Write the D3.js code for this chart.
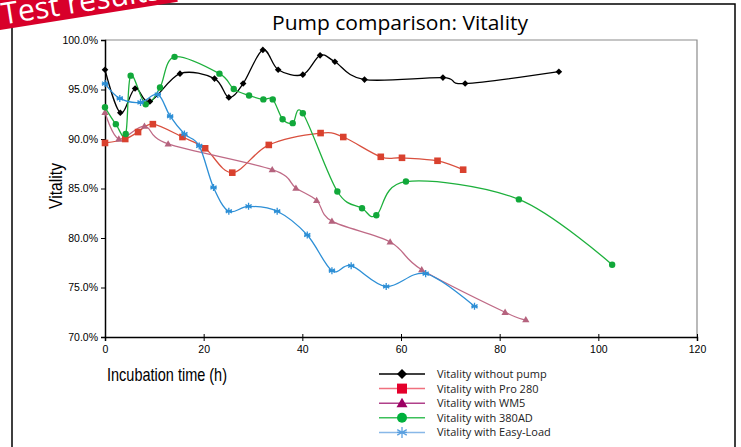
<!DOCTYPE html>
<html>
<head>
<meta charset="utf-8">
<script src="https://cdn.jsdelivr.net/npm/d3@7"></script>
<style>
  body { margin: 0; background: #fff; }
  svg { display: block; }
</style>
</head>
<body>
<div id="chart"></div>
<script>
// series: [hours, vitality %]
var noPump = [[0,97.0],[3.1,92.65],[6.1,95.1],[9.1,93.8],[15.2,96.6],[22.2,96.1],[25.1,94.2],[28.0,95.6],[32.0,99.0],[35.1,97.0],[40.1,96.5],[43.6,98.45],[46.6,97.8],[52.6,96.0],[68.5,96.2],[73.0,95.6],[92.0,96.8]];
var pro280 = [[0,89.6],[4.1,90.0],[6.7,90.7],[9.7,91.5],[15.7,90.2],[20.3,89.06],[25.8,86.6],[33.2,89.4],[43.7,90.6],[48.3,90.2],[55.9,88.2],[60.2,88.1],[67.4,87.8],[72.6,86.9]];
var wm5 = [[0,92.7],[2.8,90.0],[8.0,91.3],[12.8,89.5],[33.9,86.9],[38.7,85.05],[42.9,83.8],[46.0,81.7],[57.8,79.6],[64.2,76.8],[81.1,72.5],[85.3,71.75]];
var ad380 = [[0,93.2],[2.2,91.5],[4.2,90.5],[5.2,96.4],[8.25,93.5],[11.15,95.2],[14.1,98.3],[23.2,96.6],[26.1,95.05],[29.2,94.4],[32.1,94.0],[34.0,94.0],[36.0,92.0],[38.05,91.6],[40.1,92.6],[47.1,84.7],[52.1,83.0],[55.0,82.3],[61.0,85.7],[83.9,83.9],[102.8,77.3]];
var easyLoad = [[0,95.6],[3.0,94.1],[7.2,93.7],[10.7,94.5],[13.2,92.3],[16.1,90.5],[19.1,89.3],[22.0,85.1],[25.1,82.7],[29.1,83.2],[34.9,82.7],[41.0,80.3],[46.0,76.7],[49.9,77.2],[57.0,75.1],[65.0,76.4],[74.9,73.1]];

var seriesNames = ["Vitality without pump","Vitality with Pro 280","Vitality with WM5","Vitality with 380AD","Vitality with Easy-Load"];
var xTicks = [0,20,40,60,80,100,120];
var yTicks = [70,75,80,85,90,95,100];

var W = 741, H = 447;
var svg = d3.select('#chart').append('svg').attr('width', W).attr('height', H);

var x = d3.scaleLinear().domain([0,120]).range([105,697]);
var y = d3.scaleLinear().domain([70,100]).range([337,40]);

// outer frame
svg.append('rect').attr('x', 12).attr('y', 4).attr('width', 723).attr('height', 460)
  .attr('fill', 'none').attr('stroke', '#000').attr('stroke-width', 1.5);

// plot area border (top/right gray)
svg.append('path')
  .attr('d', 'M' + x(0) + ',' + y(100) + 'H' + x(120) + 'V' + y(70))
  .attr('fill', 'none').attr('stroke', '#8c8c8c').attr('stroke-width', 1.2);

var tickFont = '"Liberation Sans", Arial, sans-serif';

var yAxis = svg.append('g').attr('transform', 'translate(' + x(0) + ',0)')
  .call(d3.axisLeft(y).tickValues(yTicks).tickSize(4).tickFormat(function(d){ return d.toFixed(1) + '%'; }));
var xAxis = svg.append('g').attr('transform', 'translate(0,' + y(70) + ')')
  .call(d3.axisBottom(x).tickValues(xTicks).tickSize(4));
[xAxis, yAxis].forEach(function(a){
  a.select('.domain').attr('stroke', '#000').attr('stroke-width', 1.5);
  a.selectAll('.tick line').attr('stroke', '#000');
  a.selectAll('.tick text').attr('font-family', tickFont).attr('font-size', 10.5).attr('fill', '#000');
});
xAxis.selectAll('.tick line').attr('y1', -3);
xAxis.selectAll('.tick text').attr('dy', '0.9em');

var series = [
  {data: noPump,  line: '#000000', fill: '#000000', marker: 'diamond'},
  {data: pro280,  line: '#d9503f', fill: '#d9412e', marker: 'square'},
  {data: wm5,     line: '#bf6a86', fill: '#b5637e', marker: 'triangle'},
  {data: ad380,   line: '#1db03c', fill: '#11a83a', marker: 'circle'},
  {data: easyLoad,line: '#2d8fd6', fill: '#2d8fd6', marker: 'star'}
];

var line = d3.line().x(function(d){ return x(d[0]); }).y(function(d){ return y(d[1]); })
  .curve(d3.curveCardinal.tension(0));

function drawMarker(g, type, cx, cy, s, fill) {
  if (type === 'diamond') {
    g.append('path').attr('d', 'M' + cx + ',' + (cy - s) + 'L' + (cx + s) + ',' + cy + 'L' + cx + ',' + (cy + s) + 'L' + (cx - s) + ',' + cy + 'Z').attr('fill', fill);
  } else if (type === 'square') {
    g.append('rect').attr('x', cx - s).attr('y', cy - s).attr('width', 2 * s).attr('height', 2 * s).attr('fill', fill);
  } else if (type === 'triangle') {
    g.append('path').attr('d', 'M' + cx + ',' + (cy - s * 1.1) + 'L' + (cx + s * 1.1) + ',' + (cy + s * 0.8) + 'L' + (cx - s * 1.1) + ',' + (cy + s * 0.8) + 'Z').attr('fill', fill);
  } else if (type === 'circle') {
    g.append('circle').attr('cx', cx).attr('cy', cy).attr('r', s).attr('fill', fill);
  } else {
    var p = '';
    [0, 60, 120].forEach(function(a){
      var r = a * Math.PI / 180, dx = Math.sin(r) * s * 1.1, dy = Math.cos(r) * s * 1.1;
      p += 'M' + (cx - dx) + ',' + (cy - dy) + 'L' + (cx + dx) + ',' + (cy + dy);
    });
    p += 'M' + (cx - s) + ',' + cy + 'L' + (cx + s) + ',' + cy;
    g.append('path').attr('d', p).attr('stroke', fill).attr('stroke-width', 1.3).attr('fill', 'none');
  }
}

var plot = svg.append('g');
series.forEach(function(s){
  plot.append('path').datum(s.data).attr('d', line)
    .attr('fill', 'none').attr('stroke', s.line).attr('stroke-width', 1.3);
});
series.forEach(function(s){
  var g = plot.append('g');
  var size = s.marker === 'circle' ? 3.2 : (s.marker === 'star' ? 3.2 : 3.3);
  s.data.forEach(function(d){ drawMarker(g, s.marker, x(d[0]), y(d[1]), size, s.fill); });
});

// titles
svg.append('text').attr('x', 400).attr('y', 30).attr('text-anchor', 'middle')
  .attr('font-family', '"Open Sans", sans-serif').attr('font-size', 20.5).attr('fill', '#000')
  .attr('textLength', 256).attr('lengthAdjust', 'spacingAndGlyphs')
  .text('Pump comparison: Vitality');
svg.append('text').attr('transform', 'translate(62,186) rotate(-90)').attr('text-anchor', 'middle')
  .attr('font-family', '"Liberation Sans", Arial, sans-serif').attr('font-size', 19).attr('fill', '#000')
  .attr('textLength', 46).attr('lengthAdjust', 'spacingAndGlyphs')
  .text('Vitality');
svg.append('text').attr('x', 107).attr('y', 381)
  .attr('font-family', '"Liberation Sans", Arial, sans-serif').attr('font-size', 19).attr('fill', '#000')
  .attr('textLength', 120).attr('lengthAdjust', 'spacingAndGlyphs')
  .text('Incubation time (h)');

// legend
var legendLine = ['#000000', '#f0707e', '#b0408a', '#3cc05a', '#88b8e8'];
var legendFill = ['#000000', '#e4002b', '#9c0062', '#00b03c', '#5aa0e0'];
var legend = svg.append('g');
seriesNames.forEach(function(name, i){
  var ly = 374 + i * 14.6;
  legend.append('line').attr('x1', 379).attr('x2', 425).attr('y1', ly).attr('y2', ly)
    .attr('stroke', legendLine[i]).attr('stroke-width', 1.5);
  drawMarker(legend, series[i].marker, 402, ly, 5, legendFill[i]);
  legend.append('text').attr('x', 437).attr('y', ly + 4)
    .attr('font-family', '"Open Sans", sans-serif').attr('font-size', 11).attr('fill', '#222')
    .text(name);
});

// red banner
var banner = svg.append('g').attr('transform', 'translate(0,30) rotate(-9)');
banner.append('rect').attr('x', -20).attr('y', -45).attr('width', 200).attr('height', 45).attr('fill', '#d8002a');
banner.append('text').attr('x', 4).attr('y', -5).attr('font-family', '"Open Sans", sans-serif')
  .attr('font-size', 30).attr('fill', '#fff').text('Test results');
</script>
</body>
</html>
